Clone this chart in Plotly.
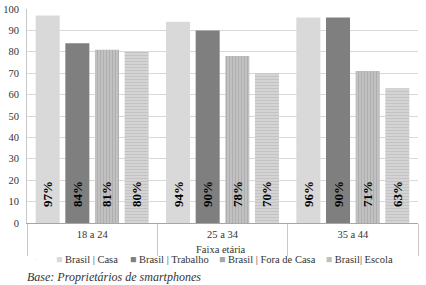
import plotly.graph_objects as go

categories = ["18 a 24", "25 a 34", "35 a 44"]
series_names = ["Brasil | Casa", "Brasil | Trabalho", "Brasil | Fora de Casa", "Brasil| Escola"]
casa = [97, 94, 96]
trabalho = [84, 90, 96]
fora = [81, 78, 71]
escola = [80, 70, 63]
casa_labels = ["97%", "94%", "96%"]
trabalho_labels = ["84%", "90%", "90%"]
fora_labels = ["81%", "78%", "71%"]
escola_labels = ["80%", "70%", "63%"]
y_ticks = [0, 10, 20, 30, 40, 50, 60, 70, 80, 90, 100]

FONT = "Liberation Serif"
pad = "\u00a0\u00a0\u00a0\u00a0"

styles = [
    dict(color="#d9d9d9"),
    dict(color="#7f7f7f"),
    dict(color="#b3b3b3", pattern=dict(shape="|", bgcolor="#c4c4c4", fgcolor="#9a9a9a", size=3, solidity=0.45)),
    dict(color="#cfcfcf", pattern=dict(shape="-", bgcolor="#d6d6d6", fgcolor="#b0b0b0", size=3, solidity=0.45)),
]
legend_colors = ["#d9d9d9", "#7f7f7f", "#a6a6a6", "#bfbfbf"]
legend_ids = ["legend", "legend2", "legend3", "legend4"]
legend_x = [-0.028, 0.161, 0.389, 0.662]

fig = go.Figure()
for name, vals, labs, st in zip(series_names, [casa, trabalho, fora, escola],
                                [casa_labels, trabalho_labels, fora_labels, escola_labels], styles):
    fig.add_trace(go.Bar(
        x=categories, y=vals, name=name, showlegend=False,
        marker=dict(line=dict(width=0), **st),
        text=[pad + t for t in labs], textposition="inside", insidetextanchor="start",
        textangle=-90, insidetextfont=dict(family=FONT, size=13, color="black"),
        texttemplate="<b>%{text}</b>", cliponaxis=False,
    ))

# Legend entries: small square marker glyph directly before the text (as in the reference)
for name, col, lid in zip(series_names, legend_colors, legend_ids):
    fig.add_trace(go.Scatter(
        x=[None], y=[None], mode="markers", legend=lid,
        name=f"<span style='color:{col}'>■</span> {name}",
        marker=dict(symbol="square", size=1, opacity=0, color=col),
    ))

legend_common = dict(orientation="h", yanchor="middle", y=-0.169, xanchor="left",
                     font=dict(family=FONT, size=10.5, color="#333333"),
                     bgcolor="rgba(0,0,0,0)", itemwidth=30)
layout_legends = {lid: dict(x=lx, **legend_common) for lid, lx in zip(legend_ids, legend_x)}

fig.update_layout(
    width=426, height=285,
    margin=dict(l=27, r=8, t=9, b=62, autoexpand=False),
    paper_bgcolor="white", plot_bgcolor="white",
    barmode="group", bargap=0.09, bargroupgap=0.19,
    font=dict(family=FONT, size=10.5, color="#333333"),
    annotations=[
        dict(text="Faixa etária", xref="paper", yref="paper", x=0.495, y=-0.122,
             xanchor="center", yanchor="middle", showarrow=False,
             font=dict(family=FONT, size=10.5, color="#333333")),
        dict(text="<i>Base: Proprietários de smartphones</i>", xref="paper", yref="paper",
             x=-0.005, y=-0.252, xanchor="left", yanchor="middle", showarrow=False,
             font=dict(family=FONT, size=12, color="#333333")),
    ],
    **layout_legends,
)
fig.update_yaxes(
    range=[0, 100], tickvals=y_ticks, showgrid=True, gridcolor="#d9d9d9", gridwidth=1,
    showline=True, linecolor="#c8c8c8", zeroline=False, automargin=False,
    ticks="outside", ticklen=5, tickcolor="rgba(0,0,0,0)",
    tickfont=dict(family=FONT, size=10.5, color="#333333"),
)
fig.update_xaxes(
    showline=True, linecolor="#a6a6a6", showgrid=False, automargin=False,
    ticks="outside", tickson="boundaries", ticklen=32, tickcolor="#c8c8c8",
    ticklabelstandoff=1,
    tickfont=dict(family=FONT, size=10.5, color="#333333"),
)

fig.write_html("out.html", config={"displayModeBar": False},
               post_script="document.body.style.margin='0';document.body.style.padding='0';document.body.style.overflow='hidden';")
